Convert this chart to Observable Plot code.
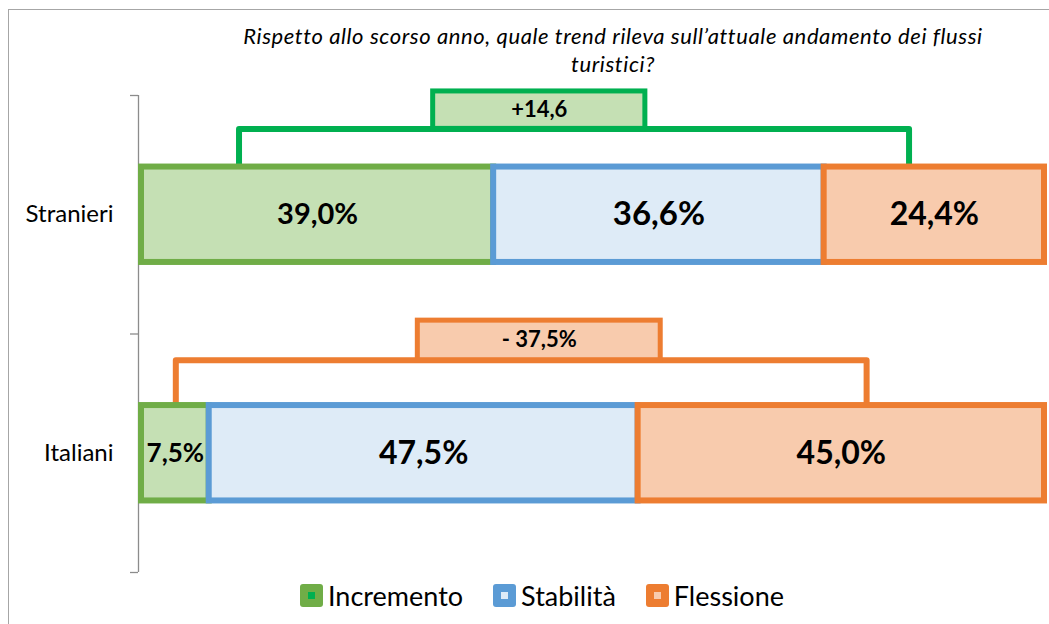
<!DOCTYPE html>
<html><head><meta charset="utf-8">
<script src="https://cdn.jsdelivr.net/npm/d3@7"></script>
<script src="https://cdn.jsdelivr.net/npm/@observablehq/plot@0.6"></script>
<style>
body{margin:0;background:#fff;font-family:Lato,"Open Sans",sans-serif;color:#000;}
#wrap{position:relative;width:1049px;height:624px;overflow:hidden;}
#frame{position:absolute;left:8px;top:9px;width:1100px;height:700px;border-top:1.5px solid #a6a6a6;border-left:1.5px solid #a6a6a6;}
#title{position:absolute;left:163px;width:900px;top:22px;text-align:center;font-style:italic;font-size:22px;letter-spacing:0.6px;line-height:28px;}
#chart{position:absolute;left:0;top:80px;}
#legend{position:absolute;top:579px;left:300px;display:flex;align-items:center;font-size:27px;}
.item{display:flex;align-items:center;margin-right:30px;}
.sw{width:23px;height:23px;border-radius:3px;display:flex;align-items:center;justify-content:center;margin-right:5px;}
.sw i{display:block;width:7px;height:7px;}
</style></head>
<body><div id="wrap"><div id="frame"></div><div id="title"></div><div id="chart"></div><div id="legend"></div></div>
<script>
// ---- data ----
const categories = ["Stranieri", "Italiani"];
const series = ["Incremento", "Stabilità", "Flessione"];
const stranieri = [39.0, 36.6, 24.4];
const italiani = [7.5, 47.5, 45.0];
const deltaLabels = ["+14,6", "- 37,5%"];
const bracketFrom = [10.8, 3.8];
const bracketTo = [85.0, 80.3];
const boxFrom = [32.3, 30.6];
const boxTo = [55.8, 57.5];
const titleLines = ["Rispetto allo scorso anno, quale trend rileva sull’attuale andamento dei flussi", "turistici?"];

// ---- styles ----
const fills = ["#C5E0B4", "#DEEBF7", "#F8CBAD"];
const strokes = ["#70AD47", "#5B9BD5", "#ED7D31"];
const legendInner = ["#00B050", "#DEEBF7", "#F8CBAD"];
const bracketStroke = ["#00B050", "#ED7D31"];
const bracketFill = ["#C5E0B4", "#F8CBAD"];
const labelSizes = [[29, 33, 32], [26, 32, 32]];
const half = 0.2, gaps = [0.16, 0.19], boxH = [0.157, 0.166];

const valuesByRow = [stranieri, italiani];
const rows = [];
valuesByRow.forEach((vals, i) => {
  let cum = 0;
  vals.forEach((v, j) => { rows.push({row: i, s: j, value: v, x1: cum, x2: cum + v}); cum += v; });
});
const ann = categories.map((c, i) => ({row: i, from: bracketFrom[i], to: bracketTo[i], bf: boxFrom[i], bt: boxTo[i], label: deltaLabels[i]}));
const barTop = i => i + 0.5 - half;
const level = i => barTop(i) - gaps[i];
const bracketPts = ann.flatMap(a => [
  {row: a.row, x: a.from, y: barTop(a.row)},
  {row: a.row, x: a.from, y: level(a.row)},
  {row: a.row, x: a.to, y: level(a.row)},
  {row: a.row, x: a.to, y: barTop(a.row)}
]);
const fmt = v => v.toFixed(1).replace(".", ",") + "%";

document.getElementById("title").innerHTML = titleLines.join("<br>");

const marks = [
  Plot.ruleX([0], {stroke: "#8c8c8c", strokeWidth: 1.3, dx: -3}),
  Plot.axisY({ticks: [0, 1, 2], tickSize: 8, tickFormat: () => "", label: null, stroke: "#8c8c8c", strokeWidth: 1.3, dx: -3}),
  Plot.axisY({ticks: [0.5, 1.5], tickSize: 0, tickPadding: 28, label: null, tickFormat: d => categories[Math.floor(d)], fontSize: 24, fill: "#000", style: "letter-spacing:0.4px"}),
  Plot.line(bracketPts, {x: "x", y: "y", z: "row", stroke: d => bracketStroke[d.row], strokeWidth: 6, strokeLinejoin: "round", strokeLinecap: "butt"}),
  Plot.rect(ann, {x1: "bf", x2: "bt", y1: a => level(a.row) - boxH[a.row], y2: a => level(a.row), fill: a => bracketFill[a.row], stroke: a => bracketStroke[a.row], strokeWidth: 5}),
  Plot.text(ann, {x: a => (a.bf + a.bt) / 2, y: a => level(a.row) - boxH[a.row] / 2, text: "label", fontWeight: "bold", fontSize: 22, fill: "#000"})
];
series.forEach((s, j) => {
  marks.push(Plot.rect(rows.filter(r => r.s === j), {x1: "x1", x2: "x2", y1: r => r.row + 0.5 - half, y2: r => r.row + 0.5 + half, fill: fills[j], stroke: strokes[j], strokeWidth: 6}));
});
marks.push(Plot.text(rows, {x: r => (r.x1 + r.x2) / 2, y: r => r.row + 0.5, text: r => fmt(r.value), fontWeight: "bold", fontSize: r => labelSizes[r.row][r.s], fill: "#000"}));

const chart = Plot.plot({
  width: 1049, height: 496, marginTop: 15, marginBottom: 4, marginLeft: 141, marginRight: 5,
  x: {domain: [0, 100], axis: null},
  y: {domain: [0, 2], reverse: true, axis: null},
  color: {type: "identity"},
  style: {background: "transparent", fontFamily: "Lato, sans-serif", overflow: "visible"},
  marks
});
document.getElementById("chart").appendChild(chart);

const leg = document.getElementById("legend");
series.forEach((s, j) => {
  const it = document.createElement("div"); it.className = "item";
  it.innerHTML = `<span class="sw" style="background:${strokes[j]}"><i style="background:${legendInner[j]}"></i></span><span>${s}</span>`;
  leg.appendChild(it);
});
</script></body></html>
